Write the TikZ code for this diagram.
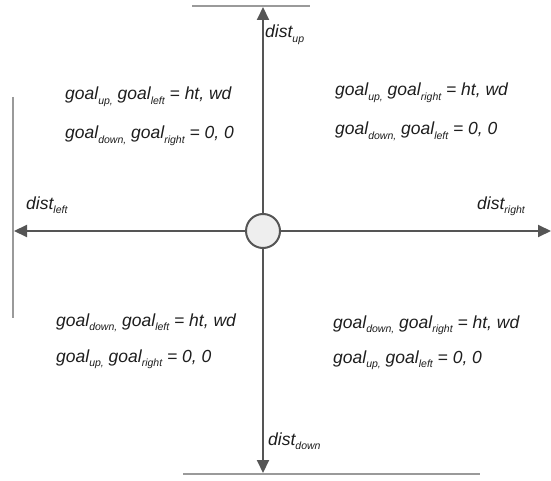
\documentclass[tikz,border=0pt]{standalone}
\usepackage{fontspec}
\setmainfont{Liberation Sans}
\usetikzlibrary{arrows.meta}
\definecolor{txt}{HTML}{1E1E1E}
\definecolor{arr}{HTML}{555555}
\definecolor{wall}{HTML}{9A9A9A}
\definecolor{hub}{HTML}{EEEEEE}
\newcommand\subx[1]{\raisebox{-4.5pt}{\fontsize{10.5}{10.5}\selectfont #1}}
\begin{document}
\begin{tikzpicture}[x=1pt,y=-1pt,
  lab/.style={anchor=base west,inner sep=0pt,font=\fontsize{17.5}{17.5}\selectfont\itshape,text=txt},
  axis/.style={draw=arr,line width=2pt,-{Triangle[length=13pt,width=12pt]}},
  wallline/.style={draw=wall,line width=2pt}]
\useasboundingbox (0,0) rectangle (551,481);
% walls
\coordinate (tw1) at (192,6); \coordinate (tw2) at (310,6);
\coordinate (bw1) at (183,474); \coordinate (bw2) at (480,474);
\coordinate (lw1) at (13,97); \coordinate (lw2) at (13,318);
\draw[wallline] (tw1) -- (tw2);
\draw[wallline] (bw1) -- (bw2);
\draw[wallline] (lw1) -- (lw2);
% hub
\node[circle,draw=arr,fill=hub,line width=2pt,minimum size=34pt,inner sep=0pt] (c) at (263,231) {};
\coordinate (up) at (263,7);
\coordinate (down) at (263,473);
\coordinate (left) at (14,231);
\coordinate (right) at (551,231);
\draw[axis] (c.north) -- (up);
\draw[axis] (c.south) -- (down);
\draw[axis] (c.west) -- (left);
\draw[axis] (c.east) -- (right);
% dist labels
\node[lab] (du) at (265,38) {dist\subx{up}};
\node[lab] (dd) at (268,445) {dist\subx{down}};
\node[lab] (dl) at (26,209) {dist\subx{left}};
\node[lab] (dr) at (477,209) {dist\subx{right}};
% quadrant labels
\node[lab] (tl1) at (65,100) {goal\subx{up,} goal\subx{left} = ht, wd};
\node[lab] (tl2) at (65,139) {goal\subx{down,} goal\subx{right} = 0, 0};
\node[lab] (tr1) at (335,96) {goal\subx{up,} goal\subx{right} = ht, wd};
\node[lab] (tr2) at (335,135) {goal\subx{down,} goal\subx{left} = 0, 0};
\node[lab] (bl1) at (56,326) {goal\subx{down,} goal\subx{left} = ht, wd};
\node[lab] (bl2) at (56,362) {goal\subx{up,} goal\subx{right} = 0, 0};
\node[lab] (br1) at (333,328) {goal\subx{down,} goal\subx{right} = ht, wd};
\node[lab] (br2) at (333,363) {goal\subx{up,} goal\subx{left} = 0, 0};
\end{tikzpicture}
\end{document}
